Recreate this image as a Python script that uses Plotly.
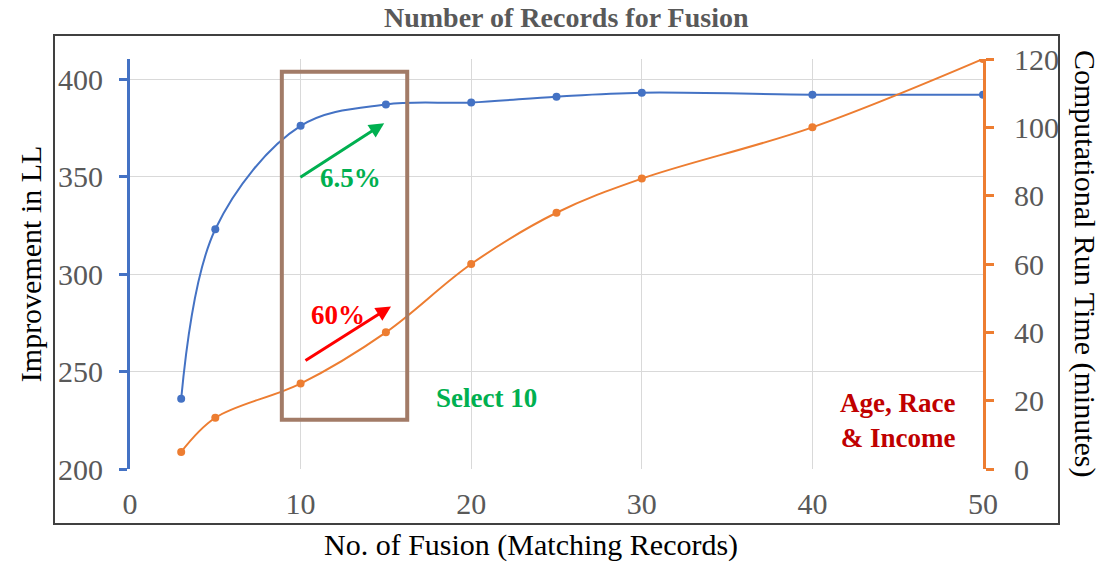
import plotly.graph_objects as go

# Data
fusion_records = [3, 5, 10, 15, 20, 25, 30, 40, 50]
improvement_ll = [236, 323, 376, 387, 388, 391, 393, 392, 392]
run_time_min = [5, 15, 25, 40, 60, 75, 85, 100, 120]

x_ticks = [0, 10, 20, 30, 40, 50]
left_ticks = [200, 250, 300, 350, 400]
right_ticks = [0, 20, 40, 60, 80, 100, 120]

BLUE = "#4472C4"
ORANGE = "#ED7D31"
GRID = "#D9D9D9"
TICKC = "#595959"
FONT = "Liberation Serif"

fig = go.Figure()
fig.add_trace(go.Scatter(
    x=fusion_records, y=improvement_ll, mode="lines+markers",
    line=dict(color=BLUE, width=2, shape="spline"),
    marker=dict(color=BLUE, size=8), yaxis="y", showlegend=False))
fig.add_trace(go.Scatter(
    x=fusion_records, y=run_time_min, mode="lines+markers",
    line=dict(color=ORANGE, width=2, shape="spline"),
    marker=dict(color=ORANGE, size=8), yaxis="y2", showlegend=False))

fig.update_layout(
    width=1107, height=567,
    margin=dict(l=130, r=124, t=59, b=98),
    paper_bgcolor="white", plot_bgcolor="white",
    font=dict(family=FONT, color=TICKC),
    xaxis=dict(range=[0, 50], tickvals=x_ticks, showgrid=True, gridcolor=GRID,
               gridwidth=1, zeroline=False, showline=False, ticks="",
               tickfont=dict(size=30, color=TICKC, family=FONT),
               ticklabelstandoff=14),
    yaxis=dict(range=[200, 410.3], tickvals=left_ticks, showgrid=True,
               gridcolor=GRID, gridwidth=1, zeroline=False,
               showline=True, linecolor=BLUE, linewidth=3,
               ticks="outside", ticklen=8, tickwidth=3, tickcolor=BLUE,
               tickfont=dict(size=30, color=TICKC, family=FONT),
               ticklabelstandoff=10),
    yaxis2=dict(range=[0, 120], tickvals=right_ticks, overlaying="y",
                side="right", showgrid=False, zeroline=False,
                showline=True, linecolor=ORANGE, linewidth=3,
                ticks="outside", ticklen=8, tickwidth=3, tickcolor=ORANGE,
                tickfont=dict(size=30, color=TICKC, family=FONT),
                ticklabelstandoff=14),
)

# Outer chart border
fig.add_shape(type="rect", xref="paper", yref="paper",
              x0=-0.0891, x1=1.0891, y0=-0.134, y1=1.0585,
              line=dict(color="#404040", width=2), layer="below")

# Brown highlight box
fig.add_shape(type="rect", xref="x", yref="y",
              x0=8.9, x1=16.25, y0=225.3, y1=403.7,
              line=dict(color="#A27B67", width=4))

C = dict(xanchor="center", yanchor="middle")
ann = []
# Title
ann.append(dict(text="<b>Number of Records for Fusion</b>", xref="paper", yref="paper",
                x=0.512, y=1.1024, showarrow=False, **C,
                font=dict(size=28, color=TICKC, family=FONT)))
# Axis titles
ann.append(dict(text="No. of Fusion (Matching Records)", xref="paper", yref="paper",
                x=0.470, y=-0.185, showarrow=False, **C,
                font=dict(size=30, color="black", family=FONT)))
ann.append(dict(text="Improvement in LL", xref="paper", yref="paper",
                x=-0.117, y=0.5, showarrow=False, textangle=-90, **C,
                font=dict(size=30, color="black", family=FONT)))
ann.append(dict(text="Computational Run Time (minutes)", xref="paper", yref="paper",
                x=1.1196, y=0.5, showarrow=False, textangle=90, **C,
                font=dict(size=30, color="black", family=FONT)))
# Arrows
ann.append(dict(x=14.9, y=377.4, ax=9.9, ay=349.2, xref="x", yref="y",
                axref="x", ayref="y", showarrow=True, arrowhead=2,
                arrowsize=1, arrowwidth=3, arrowcolor="#00B050", text=""))
ann.append(dict(x=15.3, y=283.4, ax=10.2, ay=255.2, xref="x", yref="y",
                axref="x", ayref="y", showarrow=True, arrowhead=2,
                arrowsize=1, arrowwidth=3, arrowcolor="#FF0000", text=""))
# Labels
ann.append(dict(text="<b>6.5%</b>", x=12.9, y=349.4, xref="x", yref="y", **C,
                showarrow=False, font=dict(size=27, color="#00B050", family=FONT)))
ann.append(dict(text="<b>60%</b>", x=12.2, y=279, xref="x", yref="y", **C,
                showarrow=False, font=dict(size=27, color="#FF0000", family=FONT)))
ann.append(dict(text="<b>Select 10</b>", x=20.9, y=236.6, xref="x", yref="y", **C,
                showarrow=False, font=dict(size=27, color="#00B050", family=FONT)))
ann.append(dict(text="<b>Age, Race<br>& Income</b>", x=48.5, y=224.8, xref="x", yref="y",
                xanchor="right", yanchor="middle", align="right",
                showarrow=False, font=dict(size=27, color="#C00000", family=FONT)))
fig.update_layout(annotations=ann)

fig.write_html("out.html", config={"displayModeBar": False},
               post_script="document.body.style.margin='0';document.body.style.overflow='hidden';")
